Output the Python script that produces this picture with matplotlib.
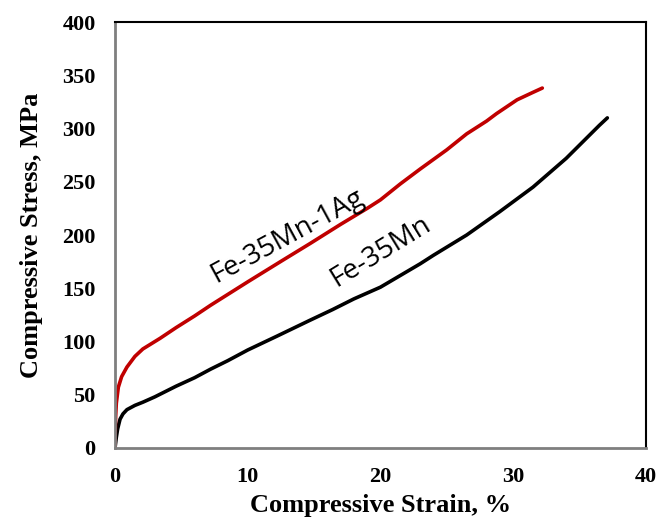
import matplotlib
matplotlib.use("Agg")
import matplotlib.pyplot as plt

# Fe-35Mn-1Ag (red curve), strain % vs stress MPa
ag_strain = [0, 0.02, 0.05, 0.1, 0.25, 0.5, 0.9, 1.5, 2.1, 3.4, 4.6, 6.0, 7.2, 8.6,
             10.0, 12.6, 14.7, 17.0, 19.0, 20.0, 21.5, 23.0, 25.0, 26.5, 28.0,
             28.75, 30.3, 31.5, 32.2]
ag_stress = [0, 15, 30, 42, 57, 67, 76, 86, 93, 103, 113, 124, 134, 145,
             156, 176, 192, 210, 225, 233, 248, 262, 280, 295, 307,
             314, 327, 334, 338]

# Fe-35Mn (black curve)
mn_strain = [0, 0.05, 0.1, 0.2, 0.38, 0.6, 0.9, 1.5, 2.1, 3.0, 4.6, 6.0, 7.2, 8.5,
             10.0, 12.2, 14.7, 16.4, 18.0, 20.0, 21.5, 23.0, 24.0, 26.5, 29.0,
             31.5, 34.0, 36.5, 37.1]
mn_stress = [0, 5, 10, 18, 27, 32, 36, 40, 43, 48, 58, 66, 74, 82,
             92, 105, 120, 130, 140, 151, 162, 173, 181, 200, 222,
             245, 272, 303, 310]

fig = plt.figure(figsize=(6.59, 5.25), dpi=100)
ax = fig.add_axes([0.1745, 0.1467, 0.8055, 0.8113])

ax.plot(mn_strain, mn_stress, color="black", lw=2.6, solid_capstyle="round")
ax.plot(ag_strain, ag_stress, color="#C00000", lw=2.6, solid_capstyle="round")

ax.set_xlim(0, 40)
ax.set_ylim(0, 400)
ax.set_xticks([0, 10, 20, 30, 40])
ax.set_yticks(range(0, 401, 50))
ax.tick_params(length=0, pad=14)
for lab in ax.get_xticklabels() + ax.get_yticklabels():
    lab.set_fontfamily("Liberation Serif")
    lab.set_fontweight("bold")
    lab.set_fontsize(16)

for s in ["left", "bottom"]:
    ax.spines[s].set_color("#7f7f7f")
    ax.spines[s].set_linewidth(2.0)
for s in ["top", "right"]:
    ax.spines[s].set_color("black")
    ax.spines[s].set_linewidth(1.5)

ax.set_xlabel("Compressive Strain, %", family="Liberation Serif",
              fontweight="bold", fontsize=19, labelpad=5)
ax.set_ylabel("Compressive Stress, MPa", family="Liberation Serif",
              fontweight="bold", fontsize=19, labelpad=14)

# curve labels
ax.text(13.0, 199, "Fe-35Mn-1Ag", family="Open Sans", fontsize=20,
        rotation=28.5, ha="center", va="center", rotation_mode="anchor")
ax.text(20.0, 184, "Fe-35Mn", family="Open Sans", fontsize=20,
        rotation=31.5, ha="center", va="center", rotation_mode="anchor")

fig.savefig("out.png", dpi=100)
